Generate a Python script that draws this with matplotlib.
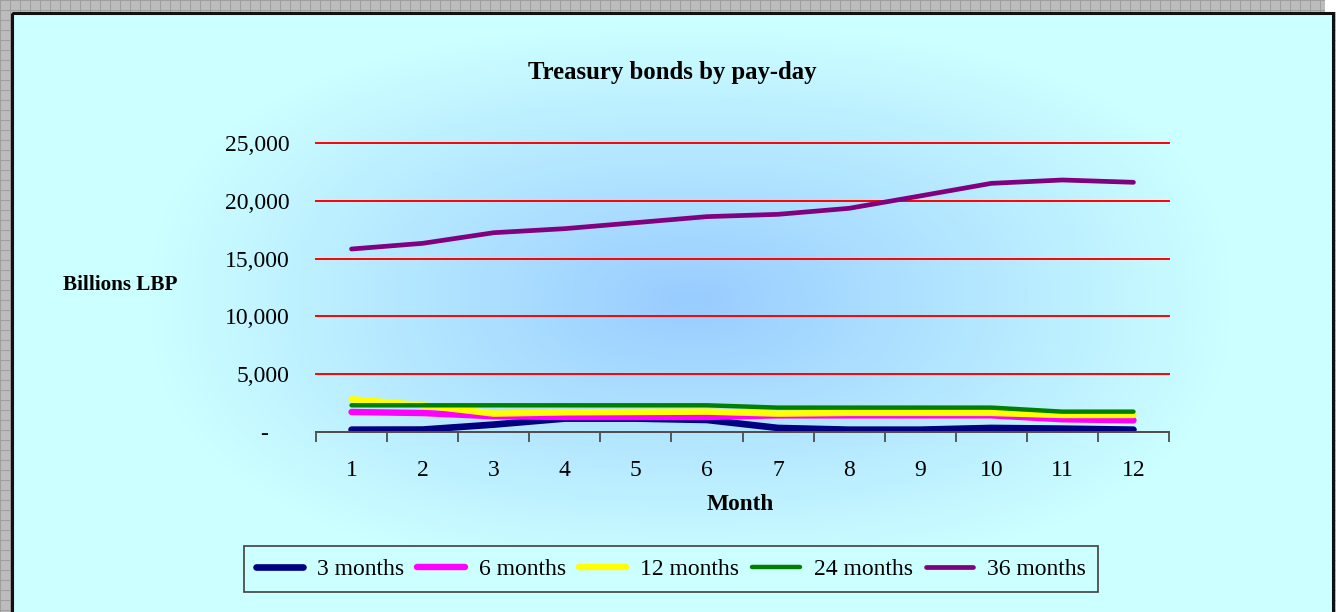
import numpy as np
import matplotlib
matplotlib.use("Agg")
import matplotlib.pyplot as plt
from matplotlib.patches import Rectangle
from matplotlib.transforms import ScaledTranslation

# ---- data (billions LBP) ----
months = ["1", "2", "3", "4", "5", "6", "7", "8", "9", "10", "11", "12"]
m3 = [200, 210, 640, 1160, 1160, 1040, 350, 200, 200, 350, 290, 200]
m6 = [1730, 1640, 1360, 1300, 1300, 1300, 1440, 1440, 1440, 1440, 1100, 1010]
m12 = [2830, 2310, 1590, 1700, 1730, 1760, 1590, 1650, 1650, 1650, 1470, 1470]
m24 = [2310, 2310, 2310, 2310, 2310, 2310, 2110, 2110, 2110, 2110, 1760, 1760]
m36 = [15830, 16320, 17240, 17590, 18110, 18630, 18830, 19350, 20420, 21510, 21800, 21600]
series_names = ["3 months", "6 months", "12 months", "24 months", "36 months"]
y_ticks = [0, 5000, 10000, 15000, 20000, 25000]

W, H = 1336, 612
SERIF = ["Liberation Serif", "DejaVu Serif"]
plt.rcParams["font.family"] = SERIF

fig = plt.figure(figsize=(W / 100, H / 100), dpi=100)

# ---- background: gray sheet, cyan chart panel, central blue glow ----
bg = fig.add_axes([0, 0, 1, 1], zorder=-10)
bg.set_xlim(0, W)
bg.set_ylim(H, 0)
bg.axis("off")

yy, xx = np.mgrid[0:H, 0:W]
sheet = np.full((H, W, 3), 0.74)
sheet[(xx % 10 == 0) | (yy % 10 == 0)] = 0.62

edge = np.array([204, 255, 255]) / 255.0
centre = np.array([153, 204, 255]) / 255.0
cx, cy, rx, ry = 690, 300, 540, 275
p = 2.4
d = (np.abs((xx - cx) / rx) ** p + np.abs((yy - cy) / ry) ** p) ** (1 / p)
t = np.clip(d, 0, 1)[..., None]
glow = centre + (edge - centre) * t
panel_mask = (xx >= 13) & (xx <= 1332) & (yy >= 14)
img = np.where(panel_mask[..., None], glow, sheet)
white_corner = (xx >= 1325) & (yy < 12)
img[white_corner] = 1.0
bg.imshow(img, extent=(0, W, H, 0), interpolation="nearest", zorder=2)
bg.add_patch(Rectangle((12, 13), 1321, H, facecolor="none", edgecolor="#111111", linewidth=2.2, zorder=3))

# ---- main chart ----
ax = fig.add_axes([316 / W, 1 - 432 / H, 853 / W, 289 / H], zorder=1)
ax.set_facecolor("none")
x = np.arange(len(months))

styles = [
    (m3, "#000080", 4.8),
    (m6, "#FF00FF", 4.6),
    (m12, "#FFFF00", 4.6),
    (m24, "#008000", 3.2),
    (m36, "#800080", 3.4),
]
handles = []
for (vals, col, lw), name in zip(styles, series_names):
    (h,) = ax.plot(x, vals, color=col, linewidth=lw, solid_capstyle="round",
                   solid_joinstyle="round", label=name, zorder=3)
    handles.append(h)

ax.set_xlim(-0.5, len(months) - 0.5)
ax.set_ylim(0, 25000)
ax.set_yticks(y_ticks)
ax.set_yticklabels(["-"] + [f"{v:,}" for v in y_ticks[1:]])
ax.yaxis.grid(True, color="#FF0000", linewidth=1.4)
for gl in ax.get_ygridlines():
    gl.set_clip_on(False)
ax.set_axisbelow(True)
for s in ["top", "right", "left"]:
    ax.spines[s].set_visible(False)
ax.spines["bottom"].set_color("#505050")
ax.spines["bottom"].set_linewidth(1.4)
ax.spines["bottom"].set_zorder(4)

ax.set_xticks(np.arange(-0.5, len(months), 1.0))
ax.set_xticklabels([])
ax.set_xticks(x, minor=True)
ax.set_xticklabels(months, minor=True)
ax.tick_params(axis="x", which="major", direction="out", length=7, width=1.2, color="#404040")
ax.tick_params(axis="x", which="minor", length=0, pad=20, labelsize=17)
ax.tick_params(axis="y", length=0, pad=19, labelsize=17)

zero_lbl = ax.get_yticklabels()[0]
zero_lbl.set_transform(zero_lbl.get_transform() + ScaledTranslation(-0.22, 0, fig.dpi_scale_trans))

fig.text(672 / W, 1 - 73 / H, "Treasury bonds by pay-day", ha="center", va="center",
         fontsize=17.8, fontweight="bold")
fig.text(120 / W, 1 - 285 / H, "Billions LBP", ha="center", va="center",
         fontsize=15.2, fontweight="bold")
fig.text(740 / W, 1 - 504 / H, "Month", ha="center", va="center",
         fontsize=16.8, fontweight="bold")

leg = fig.legend(handles=handles, loc="center", bbox_to_anchor=(671 / W, 1 - 569 / H),
                 ncol=5, frameon=True, fontsize=17, handlelength=2.0, columnspacing=0.55,
                 handletextpad=0.6, borderpad=0.5, borderaxespad=0, fancybox=False)
leg.get_frame().set_facecolor("#CCFFFF")
leg.get_frame().set_edgecolor("#404040")
leg.get_frame().set_linewidth(1.2)
leg.get_frame().set_alpha(1)

fig.savefig("out.png", dpi=100)
